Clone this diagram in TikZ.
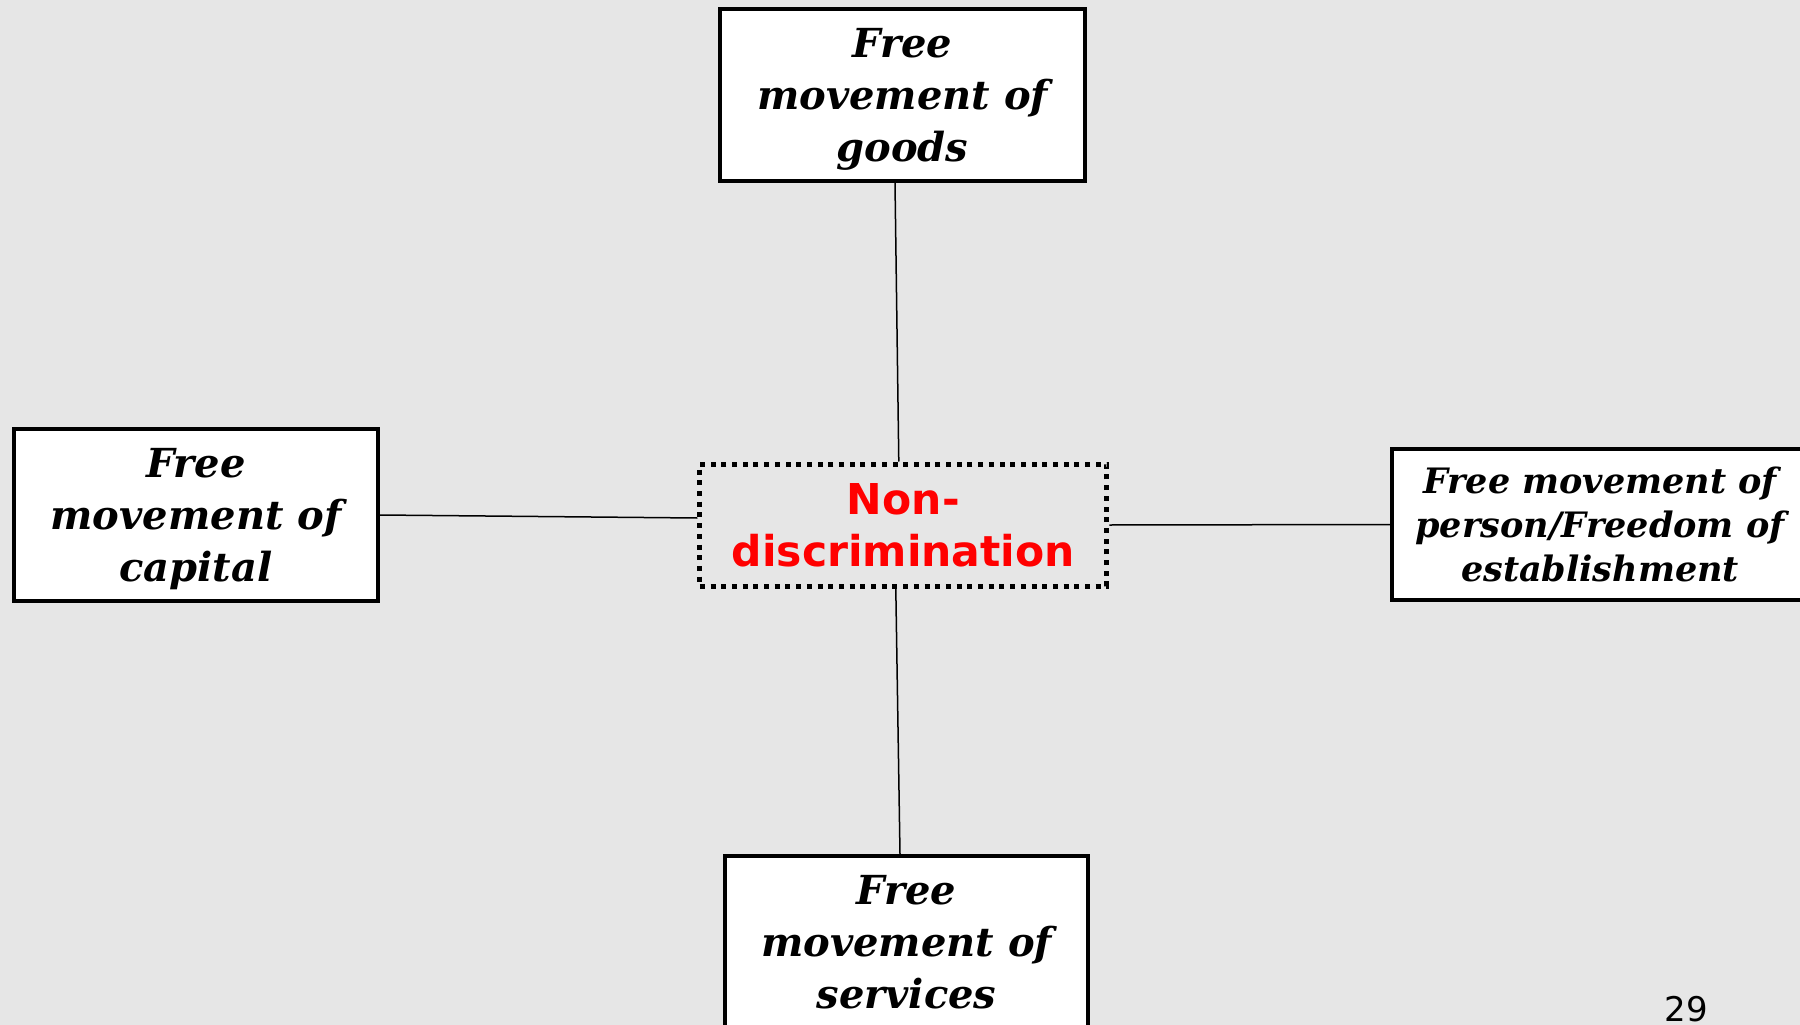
\documentclass[tikz,border=0pt]{standalone}
\usepackage{fontspec}
\setmainfont{DejaVu Serif}
\newfontfamily\labelsans{DejaVu Sans}
\definecolor{bgc}{RGB}{230,230,230}
\definecolor{nonred}{RGB}{255,0,0}
\begin{document}
\begin{tikzpicture}[x=1pt,y=-1pt,
  fbox/.style={draw=black, line width=4pt, fill=white, inner sep=0pt, align=center,
    font=\fontsize{40}{52}\selectfont\bfseries\itshape},
  rbox/.style={fbox, font=\fontsize{35}{44}\selectfont\bfseries\itshape},
  cbox/.style={draw=black, line width=5pt, dash pattern=on 5pt off 5.7pt, inner sep=0pt,
    align=center, text=nonred, font=\labelsans\fontsize{42.5}{52}\selectfont\bfseries},
  link/.style={draw=black, line width=1.5pt}
]
\fill[bgc] (0,0) rectangle (1800,1025);
\useasboundingbox (0,0) rectangle (1800,1025);
\clip (0,0) rectangle (1800,1025);

\node[fbox, minimum width=365pt, minimum height=172pt] (goods) at (902.5,95) {Free\\movement of\\\smash{goods}};
\node[fbox, minimum width=364pt, minimum height=172pt] (capital) at (196,515) {Free\\movement of\\\smash{capital}};
\node[rbox, minimum width=416pt, minimum height=151pt] (person) at (1600,524.5) {Free movement of\\person/Freedom of\\establishment};
\node[fbox, minimum width=363pt, minimum height=172pt] (services) at (906.5,942) {Free\\movement of\\services};
\node[cbox, minimum width=407pt, minimum height=122pt] (nd) at (903.3,525) {Non-\\discrimination};

\draw[link] ([xshift=-7.5pt]goods.south) -- ([xshift=-4.5pt]nd.north);
\draw[link] ([xshift=-7.5pt]nd.south) -- ([xshift=-6.5pt]services.north);
\draw[link] (capital.east) -- ([yshift=7pt]nd.west);
\draw[link] (nd.east) -- (person.west);

\node[anchor=base, inner sep=0pt, font=\labelsans\fontsize{34}{40}\selectfont] (page) at (1686,1021) {29};
\end{tikzpicture}
\end{document}
